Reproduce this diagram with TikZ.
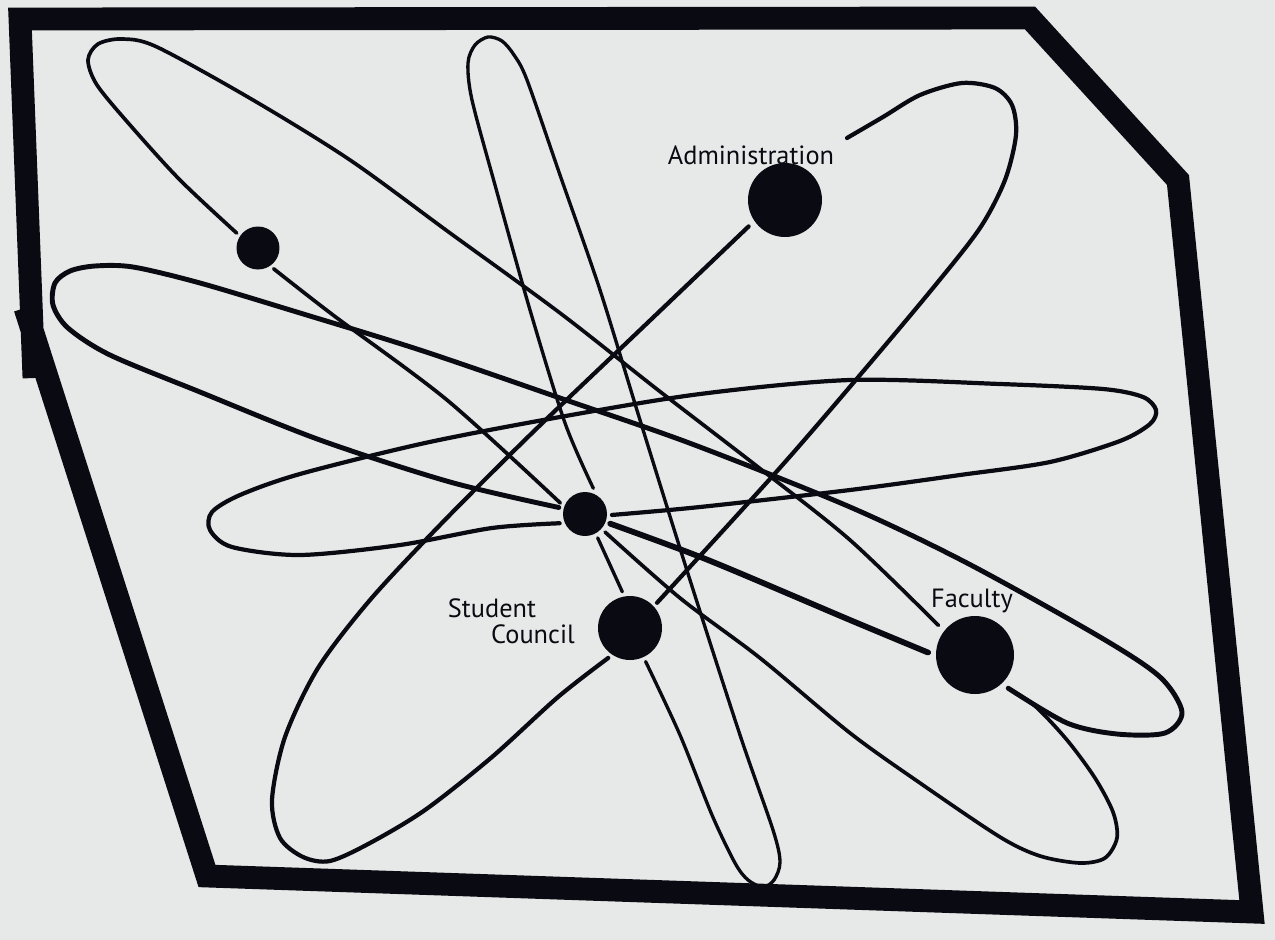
\documentclass[tikz,border=0pt]{standalone}
\usepackage{fontspec}
\newfontfamily\handfont{PT Sans}
\definecolor{paper}{RGB}{231,233,232}
\definecolor{ink}{RGB}{10,10,18}
\begin{document}
\begin{tikzpicture}[x=0.02cm,y=-0.02cm,line cap=round,line join=round,
  frameline/.style={draw=ink,line width=13pt,line join=miter,line cap=butt},
  orbA/.style={draw=ink,line width=2.1pt},
  orbD/.style={draw=ink,line width=2.8pt},
  orbDthick/.style={draw=ink,line width=3.3pt},
  orbH/.style={draw=ink,line width=2.4pt},
  orbV/.style={draw=ink,line width=1.9pt},
  orbL/.style={draw=ink,line width=2.4pt},
  dot/.style={circle,fill=ink,draw=none,inner sep=0pt},
  lbl/.style={font=\handfont\fontsize{15}{18}\selectfont,text=ink,inner sep=0pt,anchor=base}]
\useasboundingbox (0,0) rectangle (1275,940);
\fill[paper] (0,0) rectangle (1275,940);

% frame
\draw[frameline] (34,378) -- (20,19) -- (1030,18) -- (1178,180) -- (1252,912) -- (207,876) -- (25,308);

% dots
\node[dot,minimum size=0.88cm,outer sep=0.1cm] (N) at (585,514) {};
\node[dot,minimum size=0.86cm,outer sep=0.09cm] (S) at (258,248) {};
\node[dot,minimum size=1.48cm,outer sep=0.16cm] (Ad) at (785,200) {};
\node[dot,minimum size=1.28cm,outer sep=0.1cm] (C) at (630,628) {};
\node[dot,minimum size=1.56cm,outer sep=0.16cm] (F) at (975,655) {};

% labels
\node[lbl] (adminlbl) at (751,164) {Administration};
\node[lbl] (studentlbl) at (492,617) {Student};
\node[lbl] (councillbl) at (533,643) {Council};
\node[lbl] (facultylbl) at (972,607) {Faculty};

% loop A : nucleus - small dot - top-left tip - faculty - lower lobe - nucleus
\draw[orbA] plot[smooth] coordinates {(N.156) (447,400) (333,315) (S.307)};
\draw[orbA] plot[smooth] coordinates {(S.145) (180,180) (130,125) (97,85) (88,60) (98,44) (122,39) (157,47) (253,100) (350,160) (450,233) (560,313) (658,390) (758,467) (850,540) (F.141)};
\draw[orbA] plot[smooth] coordinates {(F.315) (1035,706) (1067,740) (1095,778) (1113,812) (1117,838) (1105,858) (1080,863) (1040,856) (1000,837) (920,783) (850,733) (760,658) (680,598) (N.318)};

% loop D : big left loop with right lobe
\draw[orbD] plot[smooth] coordinates {(N.166) (450,482) (320,440) (200,392) (110,355) (68,328) (53,305) (55,283) (70,271) (95,266) (133,267) (200,283) (300,313) (420,350) (560,398) (692,444) (850,507) (967,563) (1100,637) (1160,677) (1182,712) (1165,733) (1117,734) (1067,723) (F.315)};
\draw[orbDthick] plot[smooth] coordinates {(F.177) (850,620) (708,560) (N.339)};

% loop H : horizontal
\draw[orbH] plot[smooth] coordinates {(N.358) (700,507) (850,490) (960,475) (1050,462) (1120,441) (1150,424) (1156,410) (1143,397) (1103,389) (1000,384) (850,380) (700,394) (560,417) (425,443) (300,474) (240,495) (212,512) (210,530) (232,547) (300,555) (400,545) (492,528) (N.200)};

% loop V : vertical narrow loop
\draw[orbV] plot[smooth] coordinates {(N.72) (565,423) (530,310) (495,185) (472,100) (468,63) (475,45) (488,37) (502,41) (514,55) (527,80) (560,175) (600,290) (640,420) (690,580) (740,735) (773,830) (780,862) (774,880) (763,887) (748,880) (735,863) (712,815) (680,735) (C.295)};
\draw[orbV] (N.298) -- (C.102);

% loop L / R : administration - lower left - council - upper right
\draw[orbL] plot[smooth] coordinates {(Ad.216) (640,330) (530,435) (440,525) (370,600) (318,668) (285,737) (272,800) (280,838) (303,857) (330,861) (370,843) (425,810) (492,757) (558,697) (C.234)};
\draw[orbL] plot[smooth] coordinates {(C.43) (778,470) (860,375) (933,288) (980,228) (1005,180) (1016,135) (1012,105) (995,88) (962,83) (920,95) (883,117) (847,138)};
\end{tikzpicture}
\end{document}
